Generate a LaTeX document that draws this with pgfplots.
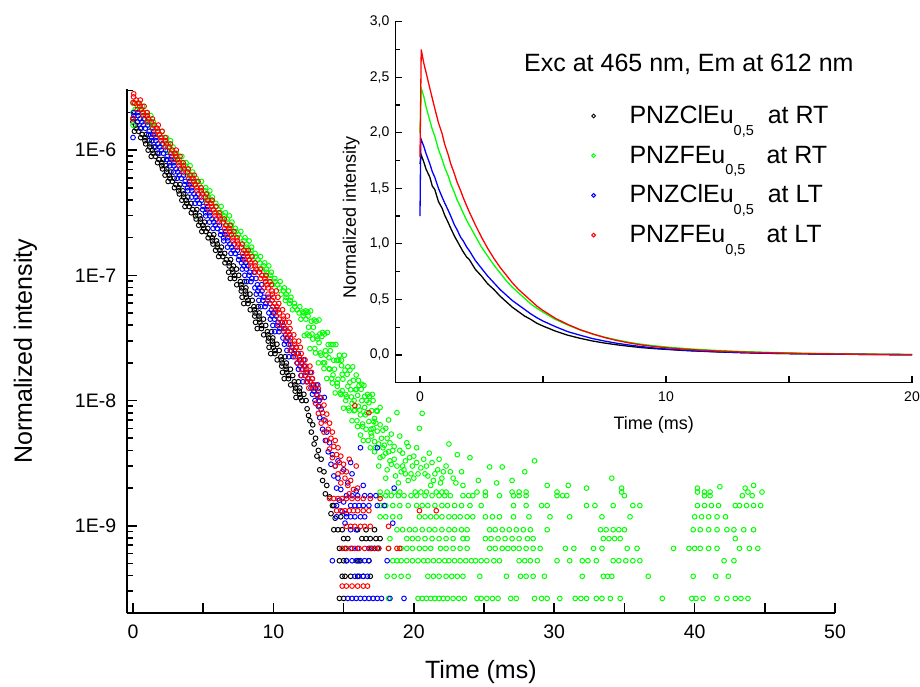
\documentclass[border=0pt]{standalone}
\usepackage{fontspec}
\setmainfont{Liberation Sans}
\usepackage{pgfplots}
\pgfplotsset{compat=1.18}
\definecolor{ogreen}{RGB}{0,255,0}
\definecolor{oblue}{RGB}{0,0,255}
\definecolor{ored}{RGB}{255,0,0}
\newcommand{\sub}[1]{\raisebox{-11.7pt}{\fontsize{14.5}{15}\selectfont #1}}
\begin{document}
\begin{tikzpicture}[x=1pt,y=1pt]
\useasboundingbox (0,0) rectangle (920,687);
\begin{axis}[
  at={(126.7pt,73.7pt)}, anchor=south west,
  scale only axis, width=708.3pt, height=524pt,
  xmin=-0.45, xmax=50, ymode=log, ymin=2e-10, ymax=3.06e-6,
  axis x line*=bottom, axis y line*=left,
  axis line style={-, line width=2pt},
  xtick={0,5,...,50}, xticklabels={0,,10,,20,,30,,40,,50},
  ytick={1e-9,1e-8,1e-7,1e-6}, yticklabels={1E-9,1E-8,1E-7,1E-6},
  minor ytick={2e-10,3e-10,4e-10,5e-10,6e-10,7e-10,8e-10,9e-10,2e-9,3e-9,4e-9,5e-9,6e-9,7e-9,8e-9,9e-9,2e-8,3e-8,4e-8,5e-8,6e-8,7e-8,8e-8,9e-8,2e-7,3e-7,4e-7,5e-7,6e-7,7e-7,8e-7,9e-7,2e-6,3e-6},
  tick align=inside, major tick length=10pt, minor tick length=6pt,
  tick style={line width=1.6pt, black},
  tick label style={font=\fontsize{19.5}{23}\selectfont},
  yticklabel style={xshift=-7pt},
  xticklabel style={yshift=-8pt},
  xlabel={Time (ms)}, ylabel={Normalized intensity},
  xlabel style={font=\fontsize{25}{30}\selectfont, at={(axis description cs:0.5,-0.112)}, anchor=center},
  ylabel style={font=\fontsize{25}{30}\selectfont, at={(axis description cs:-0.1429,0.5)}, anchor=center},
  legend style={draw=none, fill=none, at={(rel axis cs:0.6565,0.9733)}, anchor=north west, inner sep=0pt, outer sep=0pt, row sep=14.3pt, column sep=34pt, font=\fontsize{25}{30}\selectfont, nodes={text height=20pt, text depth=5.4pt, inner sep=0pt}},
  legend cell align=left,
  legend image code/.code={\draw[#1, mark size=1.9pt] plot coordinates {(0pt,0pt)};},
  every axis plot/.append style={only marks, mark=o, mark size=2.35pt, mark options={line width=0.95pt}},
]
% black: PNZClEu0,5 at RT
\addplot[black] coordinates {
(0.00,1.778e-6) (0.30,1.679e-6) (0.18,1.585e-6) (0.53,1.496e-6) (0.40,1.413e-6) (0.95,1.334e-6) (0.85,1.259e-6) (1.15,1.189e-6) (1.20,1.122e-6) (1.50,1.059e-6) (1.38,1.000e-6) (1.73,9.441e-7) (1.60,8.913e-7) (2.15,8.414e-7) (2.05,7.943e-7) (2.35,7.499e-7) (2.40,7.079e-7) (2.70,6.683e-7) (2.58,6.310e-7) (2.93,5.957e-7) (2.80,5.623e-7) (3.35,5.309e-7) (3.25,5.012e-7) (3.55,4.732e-7) (3.60,4.467e-7) (3.90,4.217e-7) (3.78,3.981e-7) (4.13,3.758e-7) (4.00,3.548e-7) (4.55,3.350e-7) (4.45,3.162e-7) (4.75,2.985e-7) (4.80,2.818e-7) (5.10,2.661e-7) (4.98,2.512e-7) (5.33,2.371e-7) (5.20,2.239e-7) (5.75,2.113e-7) (5.65,1.995e-7) (5.95,1.884e-7) (6.00,1.778e-7) (6.30,1.679e-7) (6.18,1.585e-7) (6.53,1.496e-7) (6.40,1.413e-7) (6.95,1.334e-7) (6.85,1.259e-7) (7.15,1.189e-7)
(0.00,1.679e-6) (0.23,1.496e-6) (0.10,1.413e-6) (0.65,1.334e-6) (0.55,1.259e-6) (0.85,1.189e-6) (0.90,1.122e-6) (1.20,1.059e-6) (1.08,1.000e-6) (1.43,9.441e-7) (1.30,8.913e-7) (1.85,8.414e-7) (1.75,7.943e-7) (2.05,7.499e-7) (2.10,7.079e-7) (2.40,6.683e-7) (2.28,6.310e-7) (2.63,5.957e-7) (2.50,5.623e-7) (3.05,5.309e-7) (2.95,5.012e-7) (3.25,4.732e-7) (3.30,4.467e-7) (3.60,4.217e-7) (3.48,3.981e-7) (3.83,3.758e-7) (3.70,3.548e-7) (4.25,3.350e-7) (4.15,3.162e-7) (4.45,2.985e-7) (4.50,2.818e-7) (4.80,2.661e-7) (4.68,2.512e-7) (5.03,2.371e-7) (4.90,2.239e-7) (5.45,2.113e-7) (5.35,1.995e-7) (5.65,1.884e-7) (5.70,1.778e-7) (6.00,1.679e-7) (5.88,1.585e-7) (6.23,1.496e-7) (6.10,1.413e-7) (6.65,1.334e-7) (6.55,1.259e-7) (6.85,1.189e-7)
(7.37,1.122e-7) (7.11,1.059e-7) (7.53,1.000e-7) (7.23,9.441e-8) (7.95,8.913e-8) (7.69,8.414e-8) (8.04,7.943e-8) (8.01,7.499e-8) (8.33,7.079e-8) (8.07,6.683e-8) (8.49,6.310e-8) (8.19,5.957e-8) (8.91,5.623e-8) (8.65,5.309e-8) (9.00,5.012e-8) (8.97,4.732e-8) (9.29,4.467e-8) (9.03,4.217e-8) (9.45,3.981e-8) (9.15,3.758e-8) (9.87,3.548e-8) (9.61,3.350e-8) (9.96,3.162e-8) (9.93,2.985e-8) (10.25,2.818e-8) (9.99,2.661e-8) (10.41,2.512e-8) (10.11,2.371e-8) (10.83,2.239e-8) (10.57,2.113e-8) (10.92,1.995e-8) (10.89,1.884e-8) (11.21,1.778e-8) (10.95,1.679e-8) (11.37,1.585e-8) (11.07,1.496e-8) (11.79,1.413e-8) (11.53,1.334e-8) (11.88,1.259e-8) (11.85,1.189e-8) (12.17,1.122e-8) (11.91,1.059e-8) (12.33,1.000e-8)
(7.07,1.122e-7) (6.81,1.059e-7) (7.23,1.000e-7) (6.93,9.441e-8) (7.65,8.913e-8) (7.39,8.414e-8) (7.74,7.943e-8) (7.71,7.499e-8) (8.03,7.079e-8) (7.77,6.683e-8) (8.19,6.310e-8) (7.89,5.957e-8) (8.61,5.623e-8) (8.35,5.309e-8) (8.70,5.012e-8) (8.67,4.732e-8) (8.99,4.467e-8) (8.73,4.217e-8) (9.15,3.981e-8) (8.85,3.758e-8) (9.57,3.548e-8) (9.31,3.350e-8) (9.66,3.162e-8) (9.63,2.985e-8) (9.95,2.818e-8) (9.69,2.661e-8) (10.11,2.512e-8) (9.81,2.371e-8) (10.53,2.239e-8) (10.27,2.113e-8) (10.62,1.995e-8) (10.59,1.884e-8) (10.91,1.778e-8) (10.65,1.679e-8) (11.07,1.585e-8) (10.77,1.496e-8) (11.49,1.413e-8) (11.23,1.334e-8) (11.58,1.259e-8) (11.55,1.189e-8) (11.87,1.122e-8) (11.61,1.059e-8) (12.03,1.000e-8)
(12.4,8.6e-9) (12.6,6.9e-9) (12.5,7.6e-9) (12.8,6.4e-9) (12.7,5.6e-9) (13.0,5.0e-9) (12.9,4.5e-9) (13.2,4.0e-9) (13.1,3.6e-9) (13.4,3.4e-9) (13.3,2.8e-9) (13.6,2.7e-9) (13.5,2.3e-9) (13.8,2.1e-9) (13.7,1.8e-9) (14.0,1.7e-9) (14.2,1.45e-9) (14.1,1.25e-9) (14.4,1.15e-9)
(14.3,1.45e-9) (14.8,1.18e-9) (14.3,9.3e-10) (14.6,9.3e-10) (14.9,9.3e-10) (16.0,9.3e-10) (16.6,9.3e-10) (17.2,9.3e-10) (15.0,7.9e-10) (15.3,7.9e-10) (16.3,7.9e-10) (16.6,7.9e-10) (16.9,7.9e-10) (17.3,7.9e-10) (17.6,7.9e-10) (14.7,6.6e-10) (15.1,6.6e-10) (17.0,6.6e-10) (17.4,6.6e-10) (14.7,5.26e-10) (15.0,5.26e-10) (15.2,5.26e-10) (16.0,5.26e-10) (16.1,5.26e-10) (16.8,5.26e-10) (14.9,3.95e-10) (15.1,3.95e-10) (15.5,3.95e-10) (16.0,3.95e-10) (16.4,3.95e-10) (16.9,3.95e-10) (14.7,2.63e-10) (15.0,2.63e-10)
};
\addlegendentry{PNZClEu\sub{0,5}\hspace{14pt}at RT}
% green: PNZFEu0,5 at RT
\addplot[ogreen] coordinates {
(0.0,1.58e-6) (0.0,2.0e-6)
(0.00,2.371e-6) (0.33,2.239e-6) (0.15,2.113e-6) (0.63,1.995e-6) (0.92,1.884e-6) (0.76,1.778e-6) (1.10,1.679e-6) (1.05,1.585e-6) (1.35,1.496e-6) (1.73,1.413e-6) (1.55,1.334e-6) (2.03,1.259e-6) (2.32,1.189e-6) (2.16,1.122e-6) (2.50,1.059e-6) (2.45,1.000e-6) (2.75,9.441e-7) (3.13,8.913e-7) (2.95,8.414e-7) (3.43,7.943e-7) (3.72,7.499e-7) (3.56,7.079e-7) (3.90,6.683e-7) (3.85,6.310e-7) (4.15,5.957e-7) (4.53,5.623e-7) (4.35,5.309e-7) (4.83,5.012e-7) (5.12,4.732e-7) (4.96,4.467e-7) (5.30,4.217e-7) (5.25,3.981e-7) (5.55,3.758e-7) (5.93,3.548e-7) (5.75,3.350e-7) (6.23,3.162e-7) (6.52,2.985e-7) (6.36,2.818e-7) (6.70,2.661e-7) (6.65,2.512e-7) (6.95,2.371e-7) (7.33,2.239e-7) (7.15,2.113e-7) (7.63,1.995e-7) (7.92,1.884e-7) (7.76,1.778e-7) (8.10,1.679e-7) (8.05,1.585e-7) (8.35,1.496e-7) (8.73,1.413e-7) (8.55,1.334e-7) (9.03,1.259e-7) (9.32,1.189e-7) (9.16,1.122e-7) (9.50,1.059e-7) (9.45,1.000e-7) (9.75,9.441e-8) (10.13,8.913e-8) (9.95,8.414e-8) (10.43,7.943e-8) (10.72,7.499e-8) (10.56,7.079e-8) (10.90,6.683e-8) (10.85,6.310e-8) (11.15,5.957e-8) (11.53,5.623e-8) (11.35,5.309e-8) (11.83,5.012e-8) (12.12,4.732e-8) (11.96,4.467e-8)
(0.35,2.371e-6) (0.68,2.239e-6) (0.50,2.113e-6) (0.98,1.995e-6) (1.27,1.884e-6) (1.11,1.778e-6) (1.45,1.679e-6) (1.40,1.585e-6) (1.70,1.496e-6) (2.08,1.413e-6) (1.90,1.334e-6) (2.38,1.259e-6) (2.67,1.189e-6) (2.51,1.122e-6) (2.85,1.059e-6) (2.80,1.000e-6) (3.10,9.441e-7) (3.48,8.913e-7) (3.30,8.414e-7) (3.78,7.943e-7) (4.07,7.499e-7) (3.91,7.079e-7) (4.25,6.683e-7) (4.20,6.310e-7) (4.50,5.957e-7) (4.88,5.623e-7) (4.70,5.309e-7) (5.18,5.012e-7) (5.47,4.732e-7) (5.31,4.467e-7) (5.65,4.217e-7) (5.60,3.981e-7) (5.90,3.758e-7) (6.28,3.548e-7) (6.10,3.350e-7) (6.58,3.162e-7) (6.87,2.985e-7) (6.71,2.818e-7) (7.05,2.661e-7) (7.00,2.512e-7) (7.30,2.371e-7) (7.68,2.239e-7) (7.50,2.113e-7) (7.98,1.995e-7) (8.27,1.884e-7) (8.11,1.778e-7) (8.45,1.679e-7) (8.40,1.585e-7) (8.70,1.496e-7) (9.08,1.413e-7) (8.90,1.334e-7) (9.38,1.259e-7) (9.67,1.189e-7) (9.51,1.122e-7) (9.85,1.059e-7) (9.80,1.000e-7) (10.10,9.441e-8) (10.48,8.913e-8) (10.30,8.414e-8) (10.78,7.943e-8) (11.07,7.499e-8) (10.91,7.079e-8) (11.25,6.683e-8) (11.20,6.310e-8) (11.50,5.957e-8) (11.88,5.623e-8) (11.70,5.309e-8) (12.18,5.012e-8) (12.47,4.732e-8) (12.31,4.467e-8)
(12.1,5.1e-8) (12.2,3.3e-8) (12.3,5.2e-8) (12.4,3.4e-8) (12.5,3.85e-8) (12.6,2.6e-8) (12.7,4.3e-8) (12.8,3.1e-8) (12.9,4.4e-8) (13.0,2.4e-8) (13.1,3.25e-8) (13.2,2.0e-8) (13.3,3.4e-8) (13.4,2.3e-8) (13.5,3.5e-8) (13.6,1.8e-8) (13.7,2.5e-8) (13.8,1.5e-8) (13.9,2.8e-8) (14.0,1.78e-8) (14.1,2.8e-8) (14.2,1.38e-8) (14.3,2.1e-8) (14.4,1.15e-8) (14.5,2.1e-8) (14.6,1.48e-8) (14.7,2.3e-8) (14.8,1.12e-8) (14.9,1.62e-8) (15.0,8.7e-9) (15.1,1.75e-8) (15.2,1.07e-8) (15.3,1.86e-8) (15.4,8.3e-9) (15.5,1.22e-8) (15.6,6.9e-9) (15.7,1.45e-8) (15.8,8.4e-9) (15.9,1.23e-8) (16.0,6.2e-9) (16.1,1.32e-8) (16.2,7.7e-9) (16.3,1.0e-8) (16.4,4.8e-9) (16.5,1.08e-8) (16.6,5.9e-9) (16.7,1.12e-8) (16.8,6.8e-9) (16.9,4.2e-9) (17.0,8.3e-9) (17.2,4.7e-9) (17.4,8.2e-9) (17.6,3.5e-9) (17.8,5.8e-9) (18.0,3.8e-9)
(12.45,5.1e-8) (12.55,3.3e-8) (12.65,5.2e-8) (12.75,3.4e-8) (12.85,3.85e-8) (12.95,2.6e-8) (13.05,4.3e-8) (13.15,3.1e-8) (13.25,4.4e-8) (13.35,2.4e-8) (13.45,3.25e-8) (13.55,2.0e-8) (13.65,3.4e-8) (13.75,2.3e-8) (13.85,3.5e-8) (13.95,1.8e-8) (14.05,2.5e-8) (14.15,1.5e-8) (14.25,2.8e-8) (14.35,1.78e-8) (14.45,2.8e-8) (14.55,1.38e-8) (14.65,2.1e-8) (14.75,1.15e-8) (14.85,2.1e-8) (14.95,1.48e-8) (15.05,2.3e-8) (15.15,1.12e-8) (15.25,1.62e-8) (15.35,8.7e-9) (15.45,1.75e-8) (15.55,1.07e-8) (15.65,1.86e-8) (15.75,8.3e-9) (15.85,1.22e-8) (15.95,6.9e-9) (16.05,1.45e-8) (16.15,8.4e-9) (16.25,1.23e-8) (16.35,6.2e-9) (16.45,1.32e-8) (16.55,7.7e-9) (16.65,1.0e-8) (16.75,4.8e-9) (16.85,1.08e-8) (16.95,5.9e-9) (17.05,1.12e-8) (17.15,6.8e-9) (17.25,4.2e-9) (17.35,8.3e-9)
(13.25,2.9e-8) (13.65,2.0e-8) (13.95,2.2e-8) (14.25,1.6e-8) (14.55,1.3e-8) (14.85,1.9e-8) (15.15,1.0e-8) (15.45,1.4e-8) (15.75,1.0e-8) (16.05,9.0e-9) (16.35,6.5e-9) (16.65,8.0e-9) (16.95,5.5e-9) (17.1,6.0e-9) (17.3,6.6e-9) (17.5,4.5e-9) (17.7,5.0e-9) (17.9,4.4e-9) (18.1,5.0e-9) (18.3,3.3e-9) (18.5,4.0e-9) (18.8,8.0e-9) (19.5,4.6e-9) (19.2,3.0e-9)
(14.9,1.2e-8) (15.3,1.3e-8) (15.6,9.5e-9) (16.0,1.1e-8) (16.2,5.3e-9) (16.5,8.8e-9) (16.8,9.6e-9) (17.0,5.2e-9) (17.2,7.2e-9) (17.4,5.7e-9) (17.6,6.4e-9) (17.8,4.2e-9) (18.0,6.0e-9) (18.2,3.9e-9) (18.4,5.4e-9) (18.6,4.3e-9) (18.8,3.0e-9) (19.0,5.2e-9) (19.2,3.8e-9) (19.4,2.6e-9) (19.6,4.3e-9) (19.8,2.6e-9) (20.0,3.6e-9) (20.2,3.2e-9) (20.5,2.9e-9) (20.8,2.6e-9) (21.1,3.8e-9) (21.4,2.3e-9) (21.8,3.4e-9) (22.1,2.7e-9) (22.6,2.7e-9) (23.0,2.2e-9) (23.4,2.7e-9) (15.9,1.6e-8) (16.3,1.35e-8) (17.1,1.0e-8) (17.6,8.8e-9) (18.2,7.0e-9)
(17.2,3.9e-9) (17.5,3.0e-9) (17.8,3.6e-9) (18.1,2.8e-9) (18.3,4.6e-9) (18.6,3.4e-9) (18.7,2.5e-9) (19.0,4.0e-9) (19.1,2.7e-9) (19.4,3.3e-9) (19.6,2.3e-9) (19.9,3.0e-9) (20.2,4.2e-9) (20.3,2.6e-9) (20.7,3.4e-9) (21.0,2.5e-9) (21.3,3.2e-9) (21.7,2.8e-9) (22.0,2.4e-9)
(18.0,2.4e-9) (18.4,3.1e-9) (18.9,2.2e-9) (19.3,2.8e-9) (19.7,3.5e-9) (20.0,2.4e-9) (20.4,6.0e-9) (20.6,7.9e-9) (20.9,3.0e-9) (21.2,2.1e-9) (21.5,2.6e-9) (21.9,2.2e-9) (22.3,3.0e-9) (22.5,4.5e-9) (22.8,2.4e-9) (23.1,3.7e-9) (23.5,2.1e-9) (24.0,3.5e-9) (24.6,2.3e-9) (25.4,2.95e-9) (25.9,2.2e-9) (26.3,2.95e-9) (27.0,2.3e-9) (27.9,2.7e-9) (28.6,3.3e-9) (29.5,2.1e-9) (31.0,2.1e-9) (32.3,2.0e-9) (34.1,2.4e-9) (34.8,2.0e-9) (40.2,2.0e-9) (41.8,2.05e-9) (43.6,2.0e-9) (44.2,2.1e-9)
(18.2,2.63e-10) (20.3,2.63e-10) (20.6,2.63e-10) (20.9,2.63e-10) (21.2,2.63e-10) (21.5,2.63e-10) (21.8,2.63e-10) (22.1,2.63e-10) (22.4,2.63e-10) (22.8,2.63e-10) (23.2,2.63e-10) (23.6,2.63e-10) (24.5,2.63e-10) (24.8,2.63e-10) (25.2,2.63e-10) (25.6,2.63e-10) (26.0,2.63e-10) (26.9,2.63e-10) (27.3,2.63e-10) (28.6,2.63e-10) (29.1,2.63e-10) (29.5,2.63e-10) (30.4,2.63e-10) (31.5,2.63e-10) (31.9,2.63e-10) (32.3,2.63e-10) (33.0,2.63e-10) (33.4,2.63e-10) (34.0,2.63e-10) (34.7,2.63e-10) (37.7,2.63e-10) (39.8,2.63e-10) (40.1,2.63e-10) (40.6,2.63e-10) (41.6,2.63e-10) (42.3,2.63e-10) (42.9,2.63e-10) (43.3,2.63e-10) (43.8,2.63e-10)
(18.1,3.95e-10) (18.6,3.95e-10) (19.1,3.95e-10) (19.6,3.95e-10) (21.0,3.95e-10) (21.4,3.95e-10) (21.8,3.95e-10) (22.3,3.95e-10) (22.7,3.95e-10) (23.1,3.95e-10) (23.5,3.95e-10) (24.7,3.95e-10) (26.6,3.95e-10) (27.6,3.95e-10) (28.0,3.95e-10) (28.5,3.95e-10) (29.3,3.95e-10) (32.0,3.95e-10) (33.5,3.95e-10) (33.8,3.95e-10) (34.1,3.95e-10) (36.7,3.95e-10) (39.9,3.95e-10) (41.5,3.95e-10) (42.4,3.95e-10)
(18.5,5.26e-10) (18.8,5.26e-10) (19.1,5.26e-10) (19.5,5.26e-10) (19.9,5.26e-10) (20.3,5.26e-10) (20.7,5.26e-10) (21.0,5.26e-10) (21.4,5.26e-10) (21.8,5.26e-10) (22.2,5.26e-10) (22.5,5.26e-10) (22.9,5.26e-10) (23.3,5.26e-10) (23.7,5.26e-10) (24.1,5.26e-10) (24.4,5.26e-10) (24.8,5.26e-10) (25.2,5.26e-10) (25.7,5.26e-10) (26.1,5.26e-10) (27.5,5.26e-10) (27.9,5.26e-10) (28.3,5.26e-10) (28.8,5.26e-10) (30.2,5.26e-10) (31.1,5.26e-10) (32.0,5.26e-10) (32.4,5.26e-10) (33.0,5.26e-10) (34.2,5.26e-10) (34.6,5.26e-10) (35.1,5.26e-10) (35.6,5.26e-10) (36.1,5.26e-10) (42.1,5.26e-10) (42.8,5.26e-10)
(18.2,6.6e-10) (19.1,6.6e-10) (19.5,6.6e-10) (19.9,6.6e-10) (20.4,6.6e-10) (20.8,6.6e-10) (21.2,6.6e-10) (21.9,6.6e-10) (22.3,6.6e-10) (22.8,6.6e-10) (23.3,6.6e-10) (23.8,6.6e-10) (25.4,6.6e-10) (25.8,6.6e-10) (26.3,6.6e-10) (26.7,6.6e-10) (27.1,6.6e-10) (27.5,6.6e-10) (28.0,6.6e-10) (28.5,6.6e-10) (29.0,6.6e-10) (30.8,6.6e-10) (31.4,6.6e-10) (32.8,6.6e-10) (33.4,6.6e-10) (35.2,6.6e-10) (35.9,6.6e-10) (38.5,6.6e-10) (39.6,6.6e-10) (40.0,6.6e-10) (40.4,6.6e-10) (41.0,6.6e-10) (41.6,6.6e-10) (43.2,6.6e-10) (43.9,6.6e-10) (44.5,6.6e-10)
(18.3,7.9e-10) (19.5,7.9e-10) (19.9,7.9e-10) (20.3,7.9e-10) (20.8,7.9e-10) (21.3,7.9e-10) (21.8,7.9e-10) (22.3,7.9e-10) (22.8,7.9e-10) (23.5,7.9e-10) (23.8,7.9e-10) (25.1,7.9e-10) (25.5,7.9e-10) (26.0,7.9e-10) (26.5,7.9e-10) (27.0,7.9e-10) (27.5,7.9e-10) (28.1,7.9e-10) (28.5,7.9e-10) (33.5,7.9e-10) (33.9,7.9e-10) (34.3,7.9e-10) (34.7,7.9e-10) (42.9,7.9e-10)
(18.8,9.3e-10) (19.2,9.3e-10) (19.7,9.3e-10) (20.1,9.3e-10) (20.6,9.3e-10) (21.1,9.3e-10) (21.5,9.3e-10) (22.0,9.3e-10) (22.5,9.3e-10) (22.9,9.3e-10) (23.4,9.3e-10) (23.8,9.3e-10) (25.4,9.3e-10) (25.8,9.3e-10) (26.3,9.3e-10) (26.8,9.3e-10) (27.3,9.3e-10) (27.8,9.3e-10) (28.3,9.3e-10) (29.5,9.3e-10) (33.3,9.3e-10) (33.7,9.3e-10) (34.2,9.3e-10) (34.6,9.3e-10) (35.0,9.3e-10) (39.9,9.3e-10) (40.4,9.3e-10) (41.0,9.3e-10) (41.6,9.3e-10) (42.3,9.3e-10) (42.8,9.3e-10) (43.5,9.3e-10) (44.2,9.3e-10)
(17.6,1.18e-9) (18.0,1.18e-9) (18.5,1.18e-9) (19.0,1.18e-9) (20.4,1.18e-9) (20.8,1.18e-9) (21.2,1.18e-9) (21.6,1.18e-9) (22.0,1.18e-9) (22.5,1.18e-9) (22.9,1.18e-9) (23.3,1.18e-9) (23.8,1.18e-9) (24.2,1.18e-9) (25.1,1.18e-9) (25.6,1.18e-9) (26.1,1.18e-9) (27.1,1.18e-9) (28.2,1.18e-9) (29.7,1.18e-9) (31.1,1.18e-9) (33.4,1.18e-9) (35.4,1.18e-9) (40.0,1.18e-9) (40.5,1.18e-9) (41.0,1.18e-9) (41.6,1.18e-9) (42.2,1.18e-9)
(17.6,1.45e-9) (18.0,1.45e-9) (18.5,1.45e-9) (19.0,1.45e-9) (19.6,1.45e-9) (20.2,1.45e-9) (20.6,1.45e-9) (21.0,1.45e-9) (21.5,1.45e-9) (22.0,1.45e-9) (22.4,1.45e-9) (22.9,1.45e-9) (23.4,1.45e-9) (24.0,1.45e-9) (24.8,1.45e-9) (27.1,1.45e-9) (28.0,1.45e-9) (29.1,1.45e-9) (29.5,1.45e-9) (32.3,1.45e-9) (32.9,1.45e-9) (34.2,1.45e-9) (35.6,1.45e-9) (36.1,1.45e-9) (40.2,1.45e-9) (40.7,1.45e-9) (41.2,1.45e-9) (41.7,1.45e-9) (42.9,1.45e-9) (43.2,1.45e-9) (43.7,1.45e-9) (44.2,1.45e-9) (44.7,1.45e-9)
(17.6,1.74e-9) (18.0,1.74e-9) (18.4,1.74e-9) (18.9,1.74e-9) (19.3,1.74e-9) (19.8,1.74e-9) (20.2,1.74e-9) (20.8,1.74e-9) (21.3,1.74e-9) (21.8,1.74e-9) (22.2,1.74e-9) (22.6,1.74e-9) (23.5,1.74e-9) (23.9,1.74e-9) (24.2,1.74e-9) (25.1,1.74e-9) (26.1,1.74e-9) (27.1,1.74e-9) (27.5,1.74e-9) (28.0,1.74e-9) (30.2,1.74e-9) (30.6,1.74e-9) (30.9,1.74e-9) (35.0,1.74e-9) (40.7,1.74e-9) (41.1,1.74e-9) (43.4,1.74e-9) (44.1,1.74e-9)
(17.6,1.86e-9) (18.1,1.86e-9) (18.6,1.86e-9) (19.0,1.86e-9) (20.1,1.86e-9) (20.5,1.86e-9) (20.9,1.86e-9) (21.6,1.86e-9) (22.0,1.86e-9) (22.3,1.86e-9) (24.5,1.86e-9) (25.1,1.86e-9) (27.0,1.86e-9) (27.5,1.86e-9) (28.0,1.86e-9) (30.2,1.86e-9) (34.8,1.86e-9) (40.2,1.86e-9) (40.7,1.86e-9) (41.1,1.86e-9) (43.8,1.86e-9) (44.8,1.86e-9)
};
\addlegendentry{PNZFEu\sub{0,5}\hspace{21pt}at RT}
% blue: PNZClEu0,5 at LT
\addplot[oblue] coordinates {
(0.0,1.26e-6)
(0.05,1.995e-6) (0.06,1.884e-6) (0.50,1.778e-6) (0.33,1.679e-6) (0.74,1.585e-6) (0.58,1.496e-6) (1.16,1.413e-6) (1.12,1.334e-6) (1.33,1.259e-6) (1.34,1.189e-6) (1.78,1.122e-6) (1.61,1.059e-6) (2.02,1.000e-6) (1.86,9.441e-7) (2.44,8.913e-7) (2.40,8.414e-7) (2.61,7.943e-7) (2.62,7.499e-7) (3.06,7.079e-7) (2.89,6.683e-7) (3.30,6.310e-7) (3.14,5.957e-7) (3.72,5.623e-7) (3.68,5.309e-7) (3.89,5.012e-7) (3.90,4.732e-7) (4.34,4.467e-7) (4.17,4.217e-7) (4.58,3.981e-7) (4.42,3.758e-7) (5.00,3.548e-7) (4.96,3.350e-7) (5.17,3.162e-7) (5.18,2.985e-7) (5.62,2.818e-7) (5.45,2.661e-7) (5.86,2.512e-7) (5.70,2.371e-7) (6.28,2.239e-7) (6.24,2.113e-7) (6.45,1.995e-7) (6.46,1.884e-7) (6.90,1.778e-7) (6.73,1.679e-7) (7.14,1.585e-7) (6.98,1.496e-7) (7.56,1.413e-7) (7.52,1.334e-7) (7.73,1.259e-7)
(0.35,1.995e-6) (0.36,1.884e-6) (0.80,1.778e-6) (0.63,1.679e-6) (1.04,1.585e-6) (0.88,1.496e-6) (1.46,1.413e-6) (1.42,1.334e-6) (1.63,1.259e-6) (1.64,1.189e-6) (2.08,1.122e-6) (1.91,1.059e-6) (2.32,1.000e-6) (2.16,9.441e-7) (2.74,8.913e-7) (2.70,8.414e-7) (2.91,7.943e-7) (2.92,7.499e-7) (3.36,7.079e-7) (3.19,6.683e-7) (3.60,6.310e-7) (3.44,5.957e-7) (4.02,5.623e-7) (3.98,5.309e-7) (4.19,5.012e-7) (4.20,4.732e-7) (4.64,4.467e-7) (4.47,4.217e-7) (4.88,3.981e-7) (4.72,3.758e-7) (5.30,3.548e-7) (5.26,3.350e-7) (5.47,3.162e-7) (5.48,2.985e-7) (5.92,2.818e-7) (5.75,2.661e-7) (6.16,2.512e-7) (6.00,2.371e-7) (6.58,2.239e-7) (6.54,2.113e-7) (6.75,1.995e-7) (6.76,1.884e-7) (7.20,1.778e-7) (7.03,1.679e-7) (7.44,1.585e-7) (7.28,1.496e-7) (7.86,1.413e-7) (7.82,1.334e-7) (8.03,1.259e-7)
(7.89,1.189e-7) (7.78,1.122e-7) (8.33,1.059e-7) (7.96,1.000e-7) (8.46,9.441e-8) (8.10,8.913e-8) (8.86,8.414e-8) (8.68,7.943e-8) (8.89,7.499e-8) (8.78,7.079e-8) (9.33,6.683e-8) (8.96,6.310e-8) (9.46,5.957e-8) (9.10,5.623e-8) (9.86,5.309e-8) (9.68,5.012e-8) (9.89,4.732e-8) (9.78,4.467e-8) (10.33,4.217e-8) (9.96,3.981e-8) (10.46,3.758e-8) (10.10,3.548e-8) (10.86,3.350e-8) (10.68,3.162e-8) (10.89,2.985e-8) (10.78,2.818e-8) (11.33,2.661e-8) (10.96,2.512e-8) (11.46,2.371e-8) (11.10,2.239e-8) (11.86,2.113e-8) (11.68,1.995e-8) (11.89,1.884e-8) (11.78,1.778e-8) (12.33,1.679e-8) (11.96,1.585e-8) (12.46,1.496e-8) (12.10,1.413e-8) (12.86,1.334e-8) (12.68,1.259e-8) (12.89,1.189e-8) (12.78,1.122e-8) (13.33,1.059e-8) (12.96,1.000e-8)
(8.19,1.189e-7) (8.08,1.122e-7) (8.63,1.059e-7) (8.26,1.000e-7) (8.76,9.441e-8) (8.40,8.913e-8) (9.16,8.414e-8) (8.98,7.943e-8) (9.19,7.499e-8) (9.08,7.079e-8) (9.63,6.683e-8) (9.26,6.310e-8) (9.76,5.957e-8) (9.40,5.623e-8) (10.16,5.309e-8) (9.98,5.012e-8) (10.19,4.732e-8) (10.08,4.467e-8) (10.63,4.217e-8) (10.26,3.981e-8) (10.76,3.758e-8) (10.40,3.548e-8) (11.16,3.350e-8) (10.98,3.162e-8) (11.19,2.985e-8) (11.08,2.818e-8) (11.63,2.661e-8) (11.26,2.512e-8) (11.76,2.371e-8) (11.40,2.239e-8) (12.16,2.113e-8) (11.98,1.995e-8) (12.19,1.884e-8) (12.08,1.778e-8) (12.63,1.679e-8) (12.26,1.585e-8) (12.76,1.496e-8) (12.40,1.413e-8) (13.16,1.334e-8) (12.98,1.259e-8) (13.19,1.189e-8) (13.08,1.122e-8) (13.63,1.059e-8) (13.26,1.000e-8)
(13.2,9.0e-9) (13.4,8.5e-9) (13.3,7.3e-9) (13.6,7.0e-9) (13.5,5.9e-9) (13.8,5.6e-9) (13.7,4.8e-9) (14.0,4.6e-9) (13.9,3.9e-9) (14.2,3.7e-9) (14.1,3.1e-9) (14.4,3.0e-9) (14.3,2.5e-9) (14.6,2.4e-9) (14.5,2.0e-9) (14.8,1.95e-9) (14.7,1.6e-9) (15.0,1.55e-9) (14.9,1.3e-9) (15.2,1.25e-9) (15.1,1.05e-9)
(14.6,3.3e-9) (15.0,2.8e-9) (15.3,2.2e-9) (15.6,2.6e-9) (15.9,1.9e-9) (16.2,4.2e-9) (16.4,2.1e-9) (15.5,3.2e-9) (17.4,4.2e-9) (18.6,2.0e-9) (18.5,1.05e-9)
(15.3,2.63e-10) (15.6,2.63e-10) (15.9,2.63e-10) (16.2,2.63e-10) (16.5,2.63e-10) (16.8,2.63e-10) (17.1,2.63e-10) (17.4,2.63e-10) (17.7,2.63e-10) (18.3,2.63e-10) (19.3,2.63e-10)
(15.8,3.95e-10) (16.1,3.95e-10) (16.4,3.95e-10) (16.7,3.95e-10)
(14.2,5.26e-10) (15.2,5.26e-10) (15.6,5.26e-10) (15.9,5.26e-10) (16.2,5.26e-10) (16.5,5.26e-10) (16.8,5.26e-10) (18.1,5.26e-10)
(15.6,6.6e-10) (16.0,6.6e-10) (16.8,6.6e-10) (17.2,6.6e-10) (17.5,6.6e-10)
(15.5,9.3e-10) (15.9,9.3e-10)
(14.5,1.18e-9) (15.2,1.18e-9) (15.5,1.18e-9) (15.8,1.18e-9) (16.2,1.18e-9) (16.5,1.18e-9)
(14.5,1.45e-9) (15.5,1.45e-9) (15.8,1.45e-9) (16.1,1.45e-9) (16.4,1.45e-9) (16.8,1.45e-9) (17.4,1.45e-9) (17.9,1.45e-9)
(15.2,1.74e-9) (15.6,1.74e-9) (16.0,1.74e-9) (16.5,1.74e-9) (16.9,1.74e-9) (17.3,1.74e-9)
};
\addlegendentry{PNZClEu\sub{0,5}\hspace{14pt}at LT}
% red: PNZFEu0,5 at LT
\addplot[ored] coordinates {
(0.0,2.4e-6) (0.0,1.8e-6)
(0.05,2.818e-6) (0.04,2.661e-6) (0.52,2.512e-6) (0.43,2.371e-6) (0.79,2.239e-6) (0.60,2.113e-6) (1.01,1.995e-6) (1.02,1.884e-6) (1.38,1.778e-6) (1.32,1.679e-6) (1.80,1.585e-6) (1.71,1.496e-6) (2.07,1.413e-6) (1.88,1.334e-6) (2.29,1.259e-6) (2.30,1.189e-6) (2.66,1.122e-6) (2.60,1.059e-6) (3.08,1.000e-6) (2.99,9.441e-7) (3.35,8.913e-7) (3.16,8.414e-7) (3.57,7.943e-7) (3.58,7.499e-7) (3.94,7.079e-7) (3.88,6.683e-7) (4.36,6.310e-7) (4.27,5.957e-7) (4.63,5.623e-7) (4.44,5.309e-7) (4.85,5.012e-7) (4.86,4.732e-7) (5.22,4.467e-7) (5.16,4.217e-7) (5.64,3.981e-7) (5.55,3.758e-7) (5.91,3.548e-7) (5.72,3.350e-7) (6.13,3.162e-7) (6.14,2.985e-7) (6.50,2.818e-7) (6.44,2.661e-7) (6.92,2.512e-7) (6.83,2.371e-7) (7.19,2.239e-7) (7.00,2.113e-7) (7.41,1.995e-7) (7.42,1.884e-7) (7.78,1.778e-7) (7.72,1.679e-7) (8.20,1.585e-7) (8.11,1.496e-7) (8.47,1.413e-7) (8.28,1.334e-7) (8.69,1.259e-7) (8.70,1.189e-7) (9.06,1.122e-7) (9.00,1.059e-7) (9.48,1.000e-7) (9.39,9.441e-8) (9.75,8.913e-8)
(0.22,2.512e-6) (0.13,2.371e-6) (0.49,2.239e-6) (0.30,2.113e-6) (0.71,1.995e-6) (0.72,1.884e-6) (1.08,1.778e-6) (1.02,1.679e-6) (1.50,1.585e-6) (1.41,1.496e-6) (1.77,1.413e-6) (1.58,1.334e-6) (1.99,1.259e-6) (2.00,1.189e-6) (2.36,1.122e-6) (2.30,1.059e-6) (2.78,1.000e-6) (2.69,9.441e-7) (3.05,8.913e-7) (2.86,8.414e-7) (3.27,7.943e-7) (3.28,7.499e-7) (3.64,7.079e-7) (3.58,6.683e-7) (4.06,6.310e-7) (3.97,5.957e-7) (4.33,5.623e-7) (4.14,5.309e-7) (4.55,5.012e-7) (4.56,4.732e-7) (4.92,4.467e-7) (4.86,4.217e-7) (5.34,3.981e-7) (5.25,3.758e-7) (5.61,3.548e-7) (5.42,3.350e-7) (5.83,3.162e-7) (5.84,2.985e-7) (6.20,2.818e-7) (6.14,2.661e-7) (6.62,2.512e-7) (6.53,2.371e-7) (6.89,2.239e-7) (6.70,2.113e-7) (7.11,1.995e-7) (7.12,1.884e-7) (7.48,1.778e-7) (7.42,1.679e-7) (7.90,1.585e-7) (7.81,1.496e-7) (8.17,1.413e-7) (7.98,1.334e-7) (8.39,1.259e-7) (8.40,1.189e-7) (8.76,1.122e-7) (8.70,1.059e-7) (9.18,1.000e-7) (9.09,9.441e-8) (9.45,8.913e-8)
(9.85,8.414e-8) (9.62,7.943e-8) (10.20,7.499e-8) (9.92,7.079e-8) (10.32,6.683e-8) (9.90,6.310e-8) (10.38,5.957e-8) (10.25,5.623e-8) (10.65,5.309e-8) (10.42,5.012e-8) (11.00,4.732e-8) (10.72,4.467e-8) (11.12,4.217e-8) (10.70,3.981e-8) (11.18,3.758e-8) (11.05,3.548e-8) (11.45,3.350e-8) (11.22,3.162e-8) (11.80,2.985e-8) (11.52,2.818e-8) (11.92,2.661e-8) (11.50,2.512e-8) (11.98,2.371e-8) (11.85,2.239e-8) (12.25,2.113e-8) (12.02,1.995e-8) (12.60,1.884e-8) (12.32,1.778e-8) (12.72,1.679e-8) (12.30,1.585e-8) (12.78,1.496e-8) (12.65,1.413e-8) (13.05,1.334e-8) (12.82,1.259e-8)
(9.55,8.414e-8) (9.32,7.943e-8) (9.90,7.499e-8) (9.62,7.079e-8) (10.02,6.683e-8) (9.60,6.310e-8) (10.08,5.957e-8) (9.95,5.623e-8) (10.35,5.309e-8) (10.12,5.012e-8) (10.70,4.732e-8) (10.42,4.467e-8) (10.82,4.217e-8) (10.40,3.981e-8) (10.88,3.758e-8) (10.75,3.548e-8) (11.15,3.350e-8) (10.92,3.162e-8) (11.50,2.985e-8) (11.22,2.818e-8) (11.62,2.661e-8) (11.20,2.512e-8) (11.68,2.371e-8) (11.55,2.239e-8) (11.95,2.113e-8) (11.72,1.995e-8) (12.30,1.884e-8) (12.02,1.778e-8) (12.42,1.679e-8) (12.00,1.585e-8) (12.48,1.496e-8) (12.35,1.413e-8) (12.75,1.334e-8) (12.52,1.259e-8)
(13.1,1.1e-8) (13.2,1.25e-8) (13.0,9.5e-9) (13.3,9.0e-9) (13.4,1.05e-8) (13.2,7.9e-9) (13.5,8.0e-9) (13.6,9.2e-9) (13.4,6.6e-9) (13.7,6.9e-9) (13.8,7.8e-9) (13.6,5.6e-9) (13.9,5.9e-9) (14.0,6.6e-9) (13.8,4.8e-9) (14.1,5.0e-9) (14.2,5.6e-9) (14.0,4.1e-9) (14.3,4.3e-9) (14.4,4.8e-9) (14.2,3.5e-9) (14.5,3.7e-9) (14.6,4.2e-9) (14.4,3.0e-9) (14.7,3.2e-9) (14.8,3.6e-9) (14.6,2.6e-9) (14.9,2.7e-9) (15.0,3.1e-9) (14.8,2.2e-9) (15.1,2.4e-9) (15.2,2.7e-9) (15.3,2.1e-9) (15.5,2.3e-9) (15.4,1.8e-9) (15.7,1.95e-9) (16.0,2.0e-9) (15.8,9.1e-9) (16.8,8.0e-9) (15.4,3.4e-9) (15.9,3.0e-9)
(14.9,3.3e-10) (15.2,3.3e-10) (15.6,3.3e-10) (16.0,3.3e-10) (16.4,3.3e-10) (16.7,3.3e-10)
(14.9,6.6e-10) (15.2,6.6e-10) (15.5,6.6e-10) (15.8,6.6e-10) (16.1,6.6e-10) (16.5,6.6e-10) (16.9,6.6e-10) (17.2,6.6e-10) (17.5,6.6e-10) (18.2,6.6e-10) (18.8,6.6e-10) (19.0,6.6e-10)
(15.2,9.9e-10) (15.5,9.9e-10) (15.8,9.9e-10) (16.2,9.9e-10) (16.5,9.9e-10) (16.9,9.9e-10) (18.2,9.9e-10)
(14.5,1.32e-9) (14.8,1.32e-9) (15.1,1.32e-9) (15.4,1.32e-9) (15.7,1.32e-9) (16.0,1.32e-9) (16.4,1.32e-9) (16.8,1.32e-9) (20.4,1.32e-9) (21.6,1.32e-9)
(14.0,1.65e-9) (14.3,1.65e-9) (14.6,1.65e-9) (14.9,1.65e-9) (15.2,1.65e-9) (15.6,1.65e-9) (16.0,1.65e-9) (16.4,1.65e-9) (16.9,1.65e-9) (17.6,1.65e-9)
};
\addlegendentry{PNZFEu\sub{0,5}\hspace{21pt}at LT}
\end{axis}
% inset
\begin{axis}[
  at={(395.4pt,304.3pt)}, anchor=south west,
  scale only axis, width=516.6pt, height=361pt,
  xmin=-1, xmax=20, ymin=-0.25, ymax=3.0,
  axis x line*=bottom, axis y line*=left,
  axis line style={-, line width=1.5pt},
  xtick={0,5,10,15,20}, xticklabels={0,,10,,20},
  ytick={0,0.5,1,1.5,2,2.5,3}, yticklabels={{0,0},{0,5},{1,0},{1,5},{2,0},{2,5},{3,0}},
  minor ytick={0.25,0.75,1.25,1.75,2.25,2.75},
  tick align=inside, major tick length=7pt, minor tick length=4.3pt,
  tick style={line width=1.3pt, black},
  tick label style={font=\fontsize{14}{17}\selectfont},
  yticklabel style={xshift=-2.5pt},
  xticklabel style={yshift=-5pt},
  xlabel={Time (ms)}, ylabel={Normalized intensity},
  xlabel style={font=\fontsize{18}{22}\selectfont, at={(axis description cs:0.5,-0.117)}, anchor=center},
  ylabel style={font=\fontsize{18}{22}\selectfont, at={(axis description cs:-0.0854,0.459)}, anchor=center},
  every axis plot/.append style={line width=1.3pt, mark=none},
]
\addplot[black] coordinates {(0,1.72) (0.05,1.80) (0.15,1.74) (0.25,1.67) (0.4,1.60) (0.5,1.52) (0.6,1.49) (0.75,1.38) (0.9,1.32) (1.0,1.26) (1.15,1.19) (1.25,1.14) (1.4,1.07) (1.5,1.03) (1.65,0.97) (1.75,0.93) (1.9,0.88) (2.0,0.86) (2.25,0.77) (2.5,0.71) (2.75,0.64) (3.0,0.59) (3.25,0.53) (3.5,0.48) (3.75,0.43) (4.0,0.39) (4.25,0.35) (4.5,0.32) (4.75,0.285) (5.0,0.26) (5.5,0.215) (6.0,0.178) (6.5,0.150) (7.0,0.126) (7.5,0.107) (8.0,0.091) (8.5,0.078) (9.0,0.066) (9.5,0.057) (10,0.050) (10.5,0.043) (11,0.037) (12,0.028) (13,0.021) (14,0.015) (15,0.012) (16,0.009) (17,0.006) (18,0.005) (19,0.003) (20,0.002)};
\addplot[ogreen] coordinates {(0,2.0) (0.05,2.40) (0.15,2.33) (0.25,2.23) (0.4,2.11) (0.5,2.03) (0.6,1.97) (0.75,1.85) (0.9,1.76) (1.0,1.69) (1.15,1.61) (1.25,1.54) (1.4,1.46) (1.5,1.40) (1.65,1.33) (1.75,1.28) (1.9,1.21) (2.0,1.17) (2.25,1.07) (2.5,0.97) (2.75,0.89) (3.0,0.81) (3.25,0.74) (3.5,0.67) (3.75,0.61) (4.0,0.56) (4.25,0.51) (4.5,0.46) (4.75,0.42) (5.0,0.385) (5.5,0.32) (6.0,0.27) (6.5,0.225) (7.0,0.19) (7.5,0.16) (8.0,0.135) (8.5,0.113) (9.0,0.096) (9.5,0.083) (10,0.072) (10.5,0.062) (11,0.054) (12,0.041) (13,0.031) (14,0.024) (15,0.018) (16,0.014) (17,0.011) (18,0.008) (19,0.006) (20,0.004)};
\addplot[oblue] coordinates {(0,1.25) (0.03,1.95) (0.15,1.88) (0.25,1.81) (0.4,1.72) (0.5,1.65) (0.6,1.60) (0.75,1.50) (0.9,1.42) (1.0,1.37) (1.15,1.30) (1.25,1.25) (1.4,1.17) (1.5,1.13) (1.65,1.06) (1.75,1.03) (1.9,0.97) (2.0,0.94) (2.25,0.85) (2.5,0.78) (2.75,0.71) (3.0,0.65) (3.25,0.59) (3.5,0.54) (3.75,0.49) (4.0,0.45) (4.25,0.41) (4.5,0.37) (4.75,0.335) (5.0,0.305) (5.5,0.255) (6.0,0.21) (6.5,0.178) (7.0,0.148) (7.5,0.125) (8.0,0.105) (8.5,0.089) (9.0,0.075) (9.5,0.063) (10,0.054) (10.5,0.046) (11,0.039) (12,0.029) (13,0.021) (14,0.016) (15,0.012) (16,0.009) (17,0.006) (18,0.005) (19,0.003) (20,0.002)};
\addplot[ored] coordinates {(0,1.78) (0.05,2.75) (0.15,2.63) (0.25,2.54) (0.4,2.40) (0.5,2.31) (0.6,2.22) (0.75,2.09) (0.9,1.99) (1.0,1.90) (1.15,1.80) (1.25,1.72) (1.4,1.63) (1.5,1.56) (1.65,1.48) (1.75,1.42) (1.9,1.34) (2.0,1.29) (2.25,1.17) (2.5,1.06) (2.75,0.96) (3.0,0.87) (3.25,0.79) (3.5,0.72) (3.75,0.65) (4.0,0.59) (4.25,0.54) (4.5,0.49) (4.75,0.44) (5.0,0.40) (5.5,0.33) (6.0,0.275) (6.5,0.228) (7.0,0.19) (7.5,0.157) (8.0,0.13) (8.5,0.108) (9.0,0.09) (9.5,0.076) (10,0.065) (10.5,0.056) (11,0.048) (12,0.036) (13,0.027) (14,0.020) (15,0.015) (16,0.011) (17,0.008) (18,0.006) (19,0.004) (20,0.003)};
\node[anchor=base west, font=\fontsize{25}{30}\selectfont, inner sep=0pt] at (rel axis cs:0.249,0.8615) {Exc at 465 nm, Em at 612 nm};
\end{axis}
\end{tikzpicture}
\end{document}
